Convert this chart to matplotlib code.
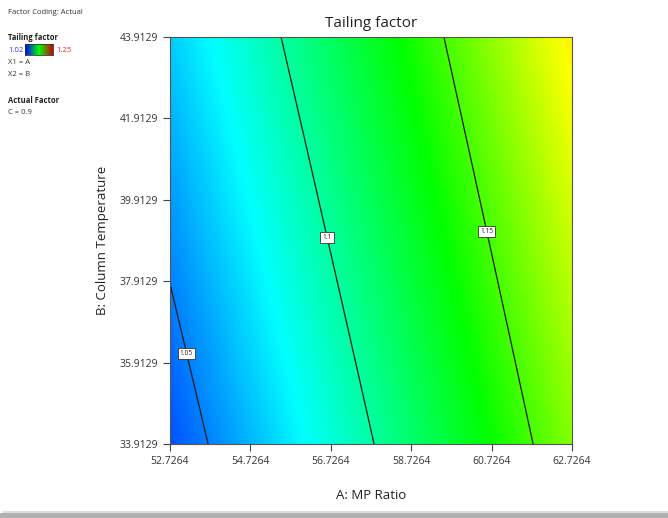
import numpy as np
import matplotlib
matplotlib.use("Agg")
import matplotlib.pyplot as plt
from matplotlib.colors import LinearSegmentedColormap
from matplotlib.patches import Rectangle

# Eixos (unidades reais)
A_RANGE = [52.7264, 62.7264]
B_RANGE = [33.9129, 43.9129]
X_TICKS = [52.7264, 54.7264, 56.7264, 58.7264, 60.7264, 62.7264]
Y_TICKS = [33.9129, 35.9129, 37.9129, 39.9129, 41.9129, 43.9129]

# Modelo da superfície (unidades codificadas, C = 0.9)
COEF_0 = 1.1132
COEF_A = 0.06185
COEF_B = 0.01415
COEF_AA = 0.00165

LEVELS = [1.05, 1.1, 1.15]
LABEL_POS = [(53.17, 36.15), (56.66, 39.00), (60.59, 39.12)]
CBAR_MIN, CBAR_MAX = 1.02, 1.25

cmap = LinearSegmentedColormap.from_list(
    "de", [(0.0, "#0000ff"), (0.255, "#00ffff"), (0.505, "#00ff00"),
           (0.73, "#ffff00"), (1.0, "#ff0000")])

A = np.linspace(A_RANGE[0], A_RANGE[1], 300)
B = np.linspace(B_RANGE[0], B_RANGE[1], 300)
AA, BB = np.meshgrid(A, B)
a = (AA - 57.7264) / 5
b = (BB - 38.9129) / 5
Z = COEF_0 + COEF_A * a + COEF_B * b + COEF_AA * a ** 2

plt.rcParams["font.family"] = ["Open Sans", "DejaVu Sans"]

fig = plt.figure(figsize=(6.68, 5.18), dpi=100)
ax = fig.add_axes([170 / 668, 74 / 518, 402 / 668, 407 / 518])

ax.imshow(Z, origin="lower", extent=A_RANGE + B_RANGE, aspect="auto",
          cmap=cmap, vmin=CBAR_MIN, vmax=CBAR_MAX, interpolation="bilinear")
cs = ax.contour(AA, BB, Z, levels=LEVELS, colors="#1a1a1a", linewidths=0.9)
labels = ax.clabel(cs, fmt={1.05: "1.05", 1.1: "1.1", 1.15: "1.15"},
                   manual=LABEL_POS, inline=False, fontsize=4.8, colors="#222222")
for t in labels:
    t.set_rotation(0)
    t.set_bbox(dict(boxstyle="square,pad=0.3", fc="white", ec="#333333", lw=0.6))

ax.set_xlim(A_RANGE)
ax.set_ylim(B_RANGE)
ax.set_xticks(X_TICKS)
ax.set_yticks(Y_TICKS)
ax.set_xticklabels([f"{v:.4f}" for v in X_TICKS])
ax.set_yticklabels([f"{v:.4f}" for v in Y_TICKS])
ax.tick_params(direction="out", length=5, width=0.8, labelsize=7.5,
               colors="#444444", labelcolor="#333333")
for s in ax.spines.values():
    s.set_color("#555555")
    s.set_linewidth(0.8)

ax.set_title("Tailing factor", fontsize=11, color="#222222", pad=7)
ax.set_xlabel("A: MP Ratio", fontsize=9.5, color="#222222", labelpad=16)
ax.set_ylabel("B: Column Temperature", fontsize=9.5, color="#222222", labelpad=8)

# Legenda à esquerda
def ft(x, y, s, **kw):
    fig.text(x / 668, 1 - y / 518, s, va="center", ha="left", **kw)

ft(8, 12, "Factor Coding: Actual", fontsize=5.5, color="#333333")
ft(8, 38, "Tailing factor", fontsize=5.5, fontweight="bold", color="#222222")
ft(8, 50, "1.02", fontsize=5.5, color="#3333ff")
ft(56, 50, "1.25", fontsize=5.5, color="#ee2222")
ft(8, 63, "X1 = A", fontsize=5.5, color="#333333")
ft(8, 75, "X2 = B", fontsize=5.5, color="#333333")
ft(8, 101, "Actual Factor", fontsize=5.5, fontweight="bold", color="#222222")
ft(8, 113, "C = 0.9", fontsize=5.5, color="#333333")

cax = fig.add_axes([25 / 668, 1 - 55 / 518, 28 / 668, 11 / 518])
grad = np.linspace(0, 1, 100).reshape(1, -1)
cax.imshow(grad, aspect="auto",
           cmap=LinearSegmentedColormap.from_list("leg", ["#0000ff", "#00ff00", "#cc0000"]))
cax.set_xticks([])
cax.set_yticks([])
for s in cax.spines.values():
    s.set_color("#333333")
    s.set_linewidth(0.6)

# sombra inferior
fig.patches.append(Rectangle((0, 0), 1, 5 / 518, transform=fig.transFigure,
                             fc="#b0b0b0", ec="none"))
fig.patches.append(Rectangle((0.005, 5 / 518), 0.995, 2 / 518, transform=fig.transFigure,
                             fc="#dcdcdc", ec="none"))

fig.savefig("out.png", dpi=100)
